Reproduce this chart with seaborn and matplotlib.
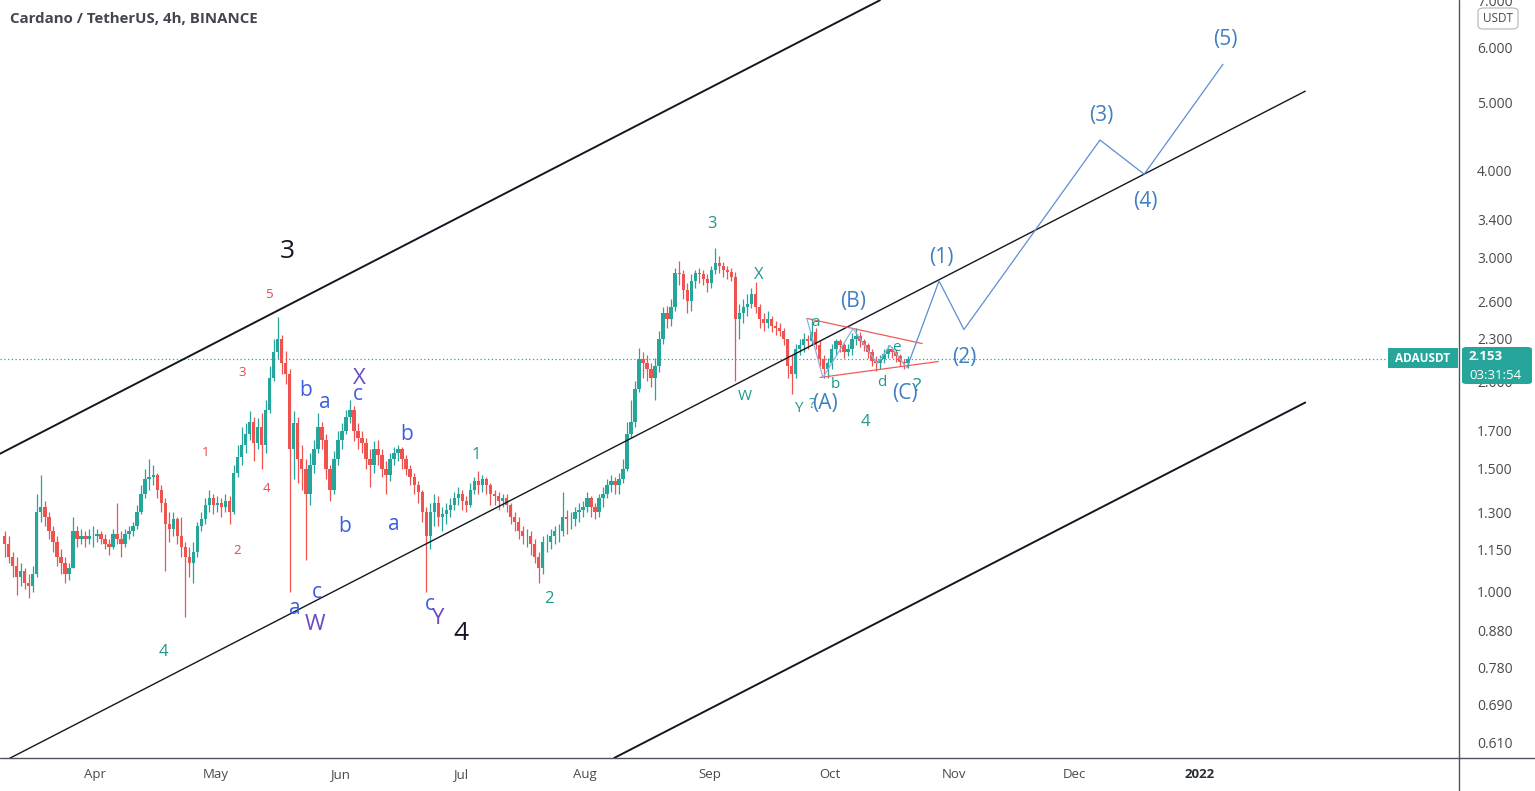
import numpy as np
import pandas as pd
import matplotlib
matplotlib.use("Agg")
import matplotlib.pyplot as plt
import matplotlib.dates as mdates
from matplotlib.patches import FancyBboxPatch, Rectangle
from matplotlib.lines import Line2D
from matplotlib.ticker import NullLocator, FixedLocator
import seaborn as sns

# ---------------- data (daily OHLC) ----------------
start_date = "2021-03-09"
first_open = 1.20
close = [
    # Mar 9-31
    1.17, 1.12, 1.09, 1.05, 1.07, 1.03, 1.02, 1.06, 1.30, 1.32, 1.28, 1.22, 1.18, 1.12, 1.10, 1.06,
    1.08, 1.22, 1.19, 1.20, 1.19, 1.20, 1.20,
    # Apr
    1.21, 1.19, 1.17, 1.16, 1.21, 1.19, 1.17, 1.21, 1.22, 1.24, 1.30, 1.38, 1.45, 1.46, 1.47, 1.40,
    1.34, 1.25, 1.23, 1.27, 1.20, 1.16, 1.12, 1.10, 1.14, 1.24, 1.27, 1.33, 1.36, 1.33,
    # May
    1.34, 1.32, 1.35, 1.30, 1.48, 1.56, 1.62, 1.68, 1.75, 1.63, 1.72, 1.62, 1.82, 2.02, 2.20, 2.30,
    2.12, 2.05, 1.60, 1.74, 1.55, 1.50, 1.38, 1.52, 1.60, 1.72, 1.65, 1.50, 1.40, 1.55, 1.65,
    # Jun
    1.70, 1.78, 1.82, 1.70, 1.66, 1.63, 1.55, 1.52, 1.60, 1.57, 1.50, 1.47, 1.55, 1.58, 1.60, 1.55,
    1.50, 1.46, 1.42, 1.39, 1.30, 1.20, 1.30, 1.34, 1.28, 1.29, 1.31, 1.33, 1.36, 1.38,
    # Jul
    1.35, 1.33, 1.40, 1.44, 1.42, 1.45, 1.42, 1.38, 1.37, 1.35, 1.36, 1.33, 1.28, 1.26, 1.22, 1.20,
    1.20, 1.17, 1.12, 1.08, 1.18, 1.18, 1.20, 1.22, 1.22, 1.28, 1.27, 1.27, 1.30, 1.31, 1.32,
    # Aug
    1.36, 1.32, 1.30, 1.36, 1.38, 1.42, 1.44, 1.42, 1.45, 1.50, 1.68, 1.75, 1.95, 2.15, 2.12, 2.08,
    2.02, 2.10, 2.30, 2.50, 2.45, 2.55, 2.85, 2.84, 2.70, 2.60, 2.78, 2.85, 2.84, 2.80, 2.76,
    # Sep
    2.88, 2.95, 2.92, 2.88, 2.86, 2.82, 2.45, 2.50, 2.55, 2.58, 2.66, 2.55, 2.45, 2.42, 2.45, 2.40,
    2.38, 2.36, 2.30, 2.10, 2.05, 2.22, 2.25, 2.30, 2.28, 2.35, 2.25, 2.15, 2.08, 2.12,
    # Oct 1-20
    2.22, 2.28, 2.25, 2.20, 2.22, 2.30, 2.32, 2.28, 2.25, 2.20, 2.14, 2.12, 2.15, 2.19, 2.22, 2.20,
    2.17, 2.13, 2.12, 2.153,
]
high = [
    1.22, 1.20, 1.14, 1.12, 1.10, 1.08, 1.06, 1.09, 1.38, 1.47, 1.35, 1.30, 1.24, 1.20, 1.15, 1.12,
    1.10, 1.28, 1.24, 1.23, 1.22, 1.23, 1.24,
    1.23, 1.22, 1.21, 1.19, 1.23, 1.34, 1.22, 1.23, 1.24, 1.26, 1.33, 1.42, 1.50, 1.55, 1.52, 1.48,
    1.42, 1.36, 1.30, 1.30, 1.28, 1.28, 1.18, 1.16, 1.18, 1.26, 1.30, 1.36, 1.40, 1.38,
    1.37, 1.36, 1.38, 1.37, 1.52, 1.62, 1.72, 1.74, 1.81, 1.78, 1.77, 1.80, 1.88, 2.10, 2.30, 2.47,
    2.33, 2.21, 2.08, 1.81, 1.78, 1.62, 1.55, 1.58, 1.65, 1.80, 1.75, 1.68, 1.52, 1.59, 1.70,
    1.74, 1.82, 1.88, 1.84, 1.74, 1.70, 1.66, 1.60, 1.64, 1.65, 1.60, 1.54, 1.58, 1.61, 1.62, 1.61,
    1.57, 1.52, 1.48, 1.44, 1.40, 1.32, 1.34, 1.38, 1.37, 1.32, 1.34, 1.36, 1.39, 1.41,
    1.40, 1.37, 1.43, 1.46, 1.49, 1.47, 1.46, 1.43, 1.40, 1.39, 1.38, 1.38, 1.34, 1.30, 1.28, 1.24,
    1.23, 1.22, 1.19, 1.14, 1.20, 1.21, 1.23, 1.24, 1.25, 1.39, 1.31, 1.30, 1.32, 1.34, 1.35,
    1.39, 1.37, 1.34, 1.38, 1.41, 1.45, 1.47, 1.46, 1.48, 1.55, 1.75, 1.88, 2.00, 2.23, 2.20, 2.18,
    2.12, 2.16, 2.36, 2.55, 2.56, 2.62, 2.90, 2.97, 2.88, 2.76, 2.84, 2.88, 2.90, 2.88, 2.84,
    2.92, 3.10, 3.02, 2.96, 2.92, 2.90, 2.86, 2.58, 2.62, 2.66, 2.72, 2.77, 2.58, 2.50, 2.52, 2.48,
    2.44, 2.42, 2.38, 2.30, 2.18, 2.26, 2.30, 2.34, 2.33, 2.46, 2.38, 2.28, 2.18, 2.16,
    2.26, 2.30, 2.30, 2.27, 2.26, 2.34, 2.38, 2.35, 2.30, 2.27, 2.22, 2.17, 2.18, 2.22, 2.25, 2.24,
    2.22, 2.19, 2.15, 2.17,
]
low = [
    1.12, 1.10, 1.05, 0.99, 1.02, 1.01, 0.98, 1.00, 1.05, 1.26, 1.24, 1.19, 1.14, 1.09, 1.06, 1.03,
    1.04, 1.08, 1.16, 1.17, 1.16, 1.17, 1.16,
    1.18, 1.17, 1.15, 1.13, 1.15, 1.17, 1.12, 1.16, 1.19, 1.20, 1.23, 1.29, 1.36, 1.40, 1.42, 1.36,
    1.30, 1.07, 1.18, 1.20, 1.17, 1.12, 0.92, 1.05, 1.03, 1.12, 1.22, 1.25, 1.30, 1.29,
    1.30, 1.28, 1.30, 1.25, 1.29, 1.46, 1.52, 1.58, 1.65, 1.54, 1.60, 1.50, 1.58, 1.80, 2.00, 2.15,
    2.05, 1.98, 1.00, 1.45, 1.43, 1.40, 1.11, 1.33, 1.48, 1.58, 1.60, 1.45, 1.35, 1.38, 1.52,
    1.60, 1.68, 1.74, 1.64, 1.60, 1.58, 1.50, 1.41, 1.48, 1.52, 1.46, 1.38, 1.44, 1.52, 1.54, 1.50,
    1.47, 1.42, 1.38, 1.34, 1.26, 1.00, 1.15, 1.24, 1.24, 1.22, 1.25, 1.28, 1.31, 1.33,
    1.31, 1.30, 1.32, 1.38, 1.38, 1.39, 1.38, 1.33, 1.33, 1.31, 1.32, 1.30, 1.25, 1.22, 1.19, 1.17,
    1.16, 1.13, 1.10, 1.03, 1.06, 1.14, 1.15, 1.17, 1.18, 1.20, 1.21, 1.23, 1.24, 1.26, 1.28,
    1.30, 1.28, 1.27, 1.28, 1.32, 1.36, 1.39, 1.38, 1.38, 1.43, 1.49, 1.66, 1.72, 1.93, 2.02, 2.00,
    1.96, 1.88, 2.06, 2.26, 2.38, 2.40, 2.52, 2.74, 2.62, 2.50, 2.52, 2.72, 2.76, 2.74, 2.68,
    2.72, 2.84, 2.85, 2.82, 2.80, 2.78, 2.00, 2.30, 2.42, 2.48, 2.54, 2.50, 2.38, 2.36, 2.38, 2.35,
    2.33, 2.32, 2.25, 2.02, 1.92, 2.02, 2.18, 2.20, 2.22, 2.25, 2.22, 2.10, 2.02, 2.02,
    2.08, 2.18, 2.20, 2.16, 2.17, 2.18, 2.25, 2.24, 2.21, 2.16, 2.10, 2.07, 2.08, 2.12, 2.16, 2.16,
    2.13, 2.10, 2.08, 2.09,
]
last_price = 2.153

# channel lines and drawings (date, price)
upper_dates = ["2021-03-08 08:00", "2021-10-13 12:00"]
upper_prices = [1.575, 7.0]
middle_dates = ["2021-03-08 08:00", "2022-01-27 10:00"]
middle_prices = [0.569, 5.19]
lower_dates = ["2021-08-08 07:00", "2022-01-27 10:00"]
lower_prices = [0.579, 1.864]
tri_up_dates = ["2021-09-25 07:00", "2021-10-24 00:00"]
tri_up_prices = [2.458, 2.263]
tri_lo_dates = ["2021-09-28 14:00", "2021-10-28 00:00"]
tri_lo_prices = [2.024, 2.133]
abcde_dates = ["2021-09-25 07:00", "2021-09-29 07:00", "2021-10-06 19:00",
               "2021-10-12 19:00", "2021-10-16 00:00", "2021-10-19 17:00"]
abcde_prices = [2.458, 2.024, 2.378, 2.119, 2.249, 2.105]
proj_dates = ["2021-10-20 05:00", "2021-10-28 05:00", "2021-11-03 10:00",
              "2021-12-07 07:00", "2021-12-18 07:00", "2022-01-06 22:00"]
proj_prices = [2.09, 2.78, 2.37, 4.42, 3.95, 5.67]

y_ticks = [7.0, 6.0, 5.0, 4.0, 3.4, 3.0, 2.6, 2.3, 2.0, 1.7, 1.5, 1.3, 1.15, 1.0,
           0.88, 0.78, 0.69, 0.61]
x_tick_dates = ["2021-04-01", "2021-05-01", "2021-06-01", "2021-07-01", "2021-08-01",
                "2021-09-01", "2021-10-01", "2021-11-01", "2021-12-01", "2022-01-01"]
x_tick_labels = ["Apr", "May", "Jun", "Jul", "Aug", "Sep", "Oct", "Nov", "Dec", "2022"]

# ---------------- styling ----------------
sns.set_theme(style="white")
plt.rcParams["font.family"] = ["Open Sans", "DejaVu Sans"]

W, H = 1535, 791
AX_R, AX_B = 1459, 758
fig = plt.figure(figsize=(W / 100, H / 100), dpi=100)
ax = fig.add_axes([0, 1 - AX_B / H, AX_R / W, AX_B / H])
ax.set_facecolor("white")

UP, DOWN = "#26a69a", "#ef5350"

dates = pd.date_range(start_date, periods=len(close), freq="D")
xn = mdates.date2num(dates) + 0.5
opens = [first_open] + close[:-1]
o = np.array(opens); c = np.array(close); h = np.array(high); l = np.array(low)
cols = np.where(c >= o, UP, DOWN)

ax.vlines(xn, l, h, colors=cols, linewidth=0.9, zorder=3)
body_lo = np.minimum(o, c)
body_hi = np.maximum(o, c)
ax.bar(xn, body_hi - body_lo, bottom=body_lo, width=0.85, color=cols,
       linewidth=0, zorder=3)

def dnum(lst):
    return mdates.date2num(pd.to_datetime(lst))

# channel
ax.plot(dnum(upper_dates), upper_prices, color="#131722", lw=1.4, zorder=4)
ax.plot(dnum(middle_dates), middle_prices, color="#131722", lw=1.0, zorder=4)
ax.plot(dnum(lower_dates), lower_prices, color="#131722", lw=1.4, zorder=4)
# triangle
ax.plot(dnum(tri_up_dates), tri_up_prices, color="#f05a5a", lw=0.9, zorder=5)
ax.plot(dnum(tri_lo_dates), tri_lo_prices, color="#f05a5a", lw=0.9, zorder=5)
ax.plot(dnum(abcde_dates), abcde_prices, color="#8fb0dd", lw=0.9, zorder=5)
# projection
proj_df = pd.DataFrame({"x": dnum(proj_dates), "y": proj_prices})
sns.lineplot(data=proj_df, x="x", y="y", sort=False, color="#5b8fd0", lw=0.9,
             ax=ax, zorder=5)

ax.axhline(last_price, color=UP, lw=0.9, ls=(0, (1, 2)), zorder=2)

ax.set_yscale("log")
ax.set_ylim(0.579, 7.005)
ax.set_xlim(mdates.date2num(pd.Timestamp("2021-03-08 08:10")),
            mdates.date2num(pd.Timestamp("2022-03-06 17:00")))
ax.set_xlabel("")
ax.set_ylabel("")

ax.yaxis.tick_right()
ax.yaxis.set_major_locator(FixedLocator(y_ticks))
ax.yaxis.set_minor_locator(NullLocator())
ax.set_yticklabels([f"{v:.3f}" for v in y_ticks])
ax.tick_params(axis="y", length=0, pad=13, labelsize=10, labelcolor="#4a4a4a")
ax.set_xticks(dnum(x_tick_dates))
ax.set_xticklabels(x_tick_labels)
ax.xaxis.set_minor_locator(NullLocator())
ax.tick_params(axis="x", length=0, pad=7, labelsize=9.5, labelcolor="#4a4a4a")
ax.get_xticklabels()[-1].set_fontweight("bold")
ax.get_xticklabels()[-1].set_color("#2a2e39")
for s in ax.spines.values():
    s.set_visible(False)
ax.grid(False)

# frame lines
fig.add_artist(Line2D([AX_R / W, AX_R / W], [0, 1], transform=fig.transFigure,
                      color="#50535e", lw=1.0))
fig.add_artist(Line2D([0, 1], [1 - AX_B / H, 1 - AX_B / H], transform=fig.transFigure,
                      color="#50535e", lw=1.0))

def ftext(x, y, s, color, size, weight="normal", ha="center", va="center", z=6):
    fig.text(x / W, 1 - y / H, s, color=color, fontsize=size, fontweight=weight,
             ha=ha, va=va, zorder=z)

ftext(10, 19, "Cardano / TetherUS, 4h, BINANCE", "#434651", 10.8, "bold", ha="left")

BLACK = "#131722"; RED = "#e3484d"; TEAL = "#1f998b"
BLUE = "#3d5ce3"; PURPLE = "#6a48c6"; WAVE = "#3f7fc2"

ftext(287, 252, "3", BLACK, 19)
ftext(461, 634, "4", BLACK, 19)
for s, x, y in [("5", 269, 294), ("3", 242, 373), ("1", 206, 452), ("4", 266, 489), ("2", 237, 550)]:
    ftext(x, y, s, RED, 9.5)
for s, x, y, sz in [("4", 163, 652, 12), ("1", 476, 455, 12), ("2", 549, 599, 12),
                    ("3", 712, 224, 12), ("X", 759, 275, 12), ("W", 745, 397, 11),
                    ("Y", 798, 408, 11), ("4", 865, 422, 12), ("a", 815, 323, 11),
                    ("b", 835, 385, 11), ("d", 882, 382, 11), ("e", 896, 348, 11),
                    ("?", 812, 404, 11), ("?", 917, 386, 14)]:
    ftext(x, y, s, TEAL, sz)
for s, x, y in [("b", 306, 390), ("a", 325, 402), ("c", 358, 395), ("b", 407, 435),
                ("b", 345, 527), ("a", 394, 525), ("a", 295, 608), ("c", 317, 592),
                ("c", 430, 605)]:
    ftext(x, y, s, BLUE, 15)
for s, x, y in [("X", 359, 378), ("W", 315, 625), ("Y", 437, 618)]:
    ftext(x, y, s, PURPLE, 16)
for s, x, y in [("(1)", 941, 257), ("(2)", 964, 358), ("(3)", 1101, 115), ("(4)", 1145, 202),
                ("(5)", 1225, 39), ("(A)", 825, 403), ("(B)", 853, 302), ("(C)", 905, 394)]:
    ftext(x, y, s, WAVE, 15)

# price labels
fig.add_artist(Rectangle((1388 / W, 1 - 368 / H), 70 / W, 20 / H, transform=fig.transFigure,
                         facecolor=UP, edgecolor="none", zorder=7))
ftext(1423, 358, "ADAUSDT", "white", 8.5, "bold", z=8)
fig.add_artist(FancyBboxPatch((1462 / W, 1 - 384 / H), 70 / W, 37 / H,
                              boxstyle="round,pad=0,rounding_size=0.003",
                              transform=fig.transFigure, facecolor=UP, edgecolor="none", zorder=7))
ftext(1469, 357, "2.153", "white", 9.5, "bold", ha="left", z=8)
ftext(1469, 375, "03:31:54", "white", 9.5, ha="left", z=8)
fig.add_artist(FancyBboxPatch((1478 / W, 1 - 29 / H), 40 / W, 21 / H,
                              boxstyle="round,pad=0,rounding_size=0.004",
                              transform=fig.transFigure, facecolor="white",
                              edgecolor="#b2b5be", lw=0.8, zorder=7))
ftext(1498, 18, "USDT", "#4a4a4a", 8.5, z=8)

fig.savefig("out.png", dpi=100, facecolor="white")
